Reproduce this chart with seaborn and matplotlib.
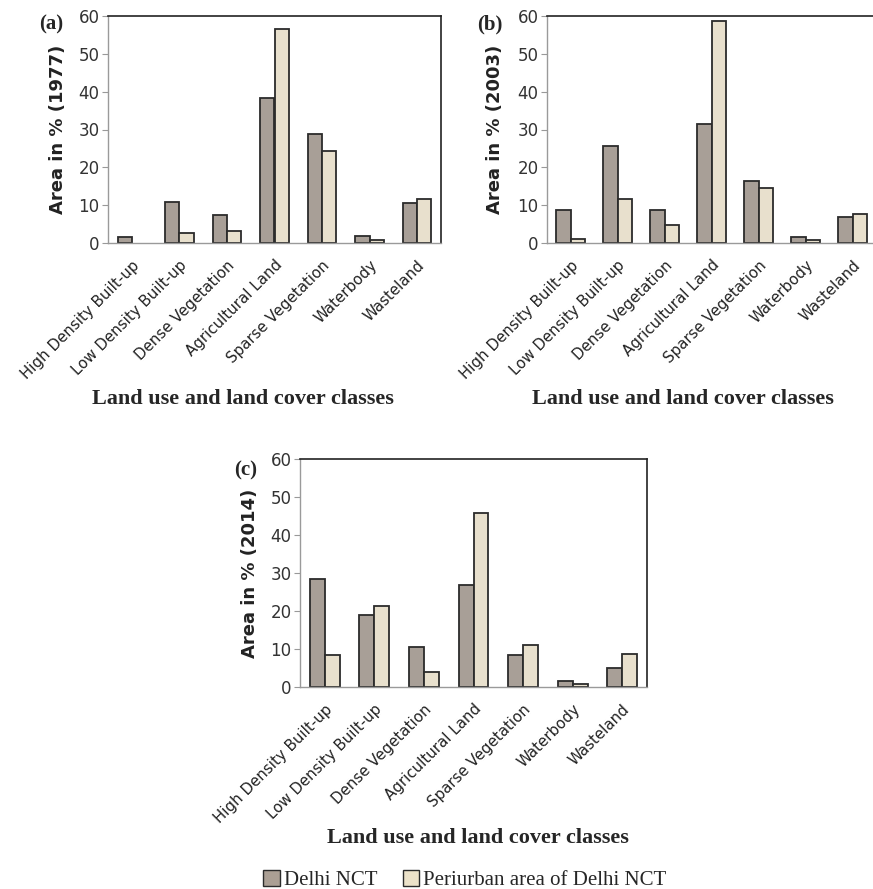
import pandas as pd
import seaborn as sns
import matplotlib.pyplot as plt
from matplotlib.patches import Patch

# Land use / land cover classes
classes = ['High Density Built-up', 'Low Density Built-up', 'Dense Vegetation',
           'Agricultural Land', 'Sparse Vegetation', 'Waterbody', 'Wasteland']
regions = ['Delhi NCT', 'Periurban area of Delhi NCT']

# values (% area)
delhi_1977 = [1.6, 10.9, 7.4, 38.2, 28.7, 1.9, 10.6]
peri_1977 = [0.0, 2.6, 3.1, 56.6, 24.4, 0.7, 11.7]
delhi_2003 = [8.6, 25.6, 8.6, 31.5, 16.4, 1.5, 7.0]
peri_2003 = [1.1, 11.7, 4.7, 58.6, 14.5, 0.7, 7.7]
delhi_2014 = [28.3, 18.9, 10.6, 26.8, 8.4, 1.7, 5.1]
peri_2014 = [8.3, 21.4, 4.0, 45.7, 11.1, 0.8, 8.7]

years = ['1977', '2003', '2014']
panel_tags = ['(a)', '(b)', '(c)']
bar_colors = ['#ab9f94', '#ece2c9']

sns.set_style("white")
plt.rcParams['font.family'] = ['DejaVu Sans']


def make_df(delhi, peri):
    d1 = pd.DataFrame({'cls': classes, 'val': delhi, 'region': regions[0]})
    d2 = pd.DataFrame({'cls': classes, 'val': peri, 'region': regions[1]})
    return pd.concat([d1, d2], ignore_index=True)


data = [make_df(delhi_1977, peri_1977),
        make_df(delhi_2003, peri_2003),
        make_df(delhi_2014, peri_2014)]

W, H = 873, 889
fig = plt.figure(figsize=(W / 100, H / 100), dpi=100)

# axes boxes in pixels: left, top, right, bottom
boxes = [(108, 16, 441, 243), (547, 16, 876, 243), (300, 459, 647, 687)]
# pixel positions of the panel tags, ylabels and xlabels
tag_pos = [(51, 24), (490, 24), (246, 470)]
ylab_x = [58, 495, 250]
xlab_pos = [(243, 399), (683, 399), (478, 838)]

serif = ['Liberation Serif', 'DejaVu Serif']

for i, df in enumerate(data):
    l, t, r, b = boxes[i]
    ax = fig.add_axes([l / W, 1 - b / H, (r - l) / W, (b - t) / H])
    sns.barplot(data=df, x='cls', y='val', hue='region', palette=bar_colors,
                width=0.6, edgecolor='#2b2b2b', linewidth=1.3, ax=ax, legend=False)
    # empty bars leave no outline
    for p in ax.patches:
        if p.get_height() == 0:
            p.set_linewidth(0)
    ax.set_ylim(0, 60)
    ax.set_yticks(range(0, 61, 10))
    ax.set_xlim(-0.5, 6.5)
    ax.set_xlabel('')
    ax.set_ylabel('')
    ax.tick_params(axis='y', left=True, length=4, color='#999999', labelsize=12,
                   labelcolor='#333333', pad=2)
    ax.tick_params(axis='x', bottom=False, pad=7)
    plt.setp(ax.get_xticklabels(), rotation=45, ha='right', rotation_mode='anchor',
             fontsize=10.8, color='#222222')
    for s in ['top', 'right']:
        ax.spines[s].set_color('#222222')
        ax.spines[s].set_linewidth(1.2)
    for s in ['left', 'bottom']:
        ax.spines[s].set_color('#9a9a9a')
        ax.spines[s].set_linewidth(1.0)

    fig.text(tag_pos[i][0] / W, 1 - tag_pos[i][1] / H, panel_tags[i],
             family=serif, fontweight='bold', fontsize=15, ha='center', va='center')
    fig.text(ylab_x[i] / W, 1 - ((t + b) / 2) / H, 'Area in % (' + years[i] + ')',
             fontweight='bold', fontsize=13, rotation=90, ha='center', va='center',
             color='#222222')
    fig.text(xlab_pos[i][0] / W, 1 - xlab_pos[i][1] / H, 'Land use and land cover classes',
             family=serif, fontweight='bold', fontsize=16, ha='center', va='center')

handles = [Patch(facecolor=bar_colors[k], edgecolor='#2b2b2b', linewidth=1.0)
           for k in range(2)]
fig.legend(handles, regions, loc='center', bbox_to_anchor=(465 / W, 1 - 880 / H),
           ncol=2, frameon=False, handlelength=0.8, handleheight=0.8,
           handletextpad=0.2, columnspacing=1.2, prop={'family': serif, 'size': 15})

fig.savefig('out.png', dpi=100)
